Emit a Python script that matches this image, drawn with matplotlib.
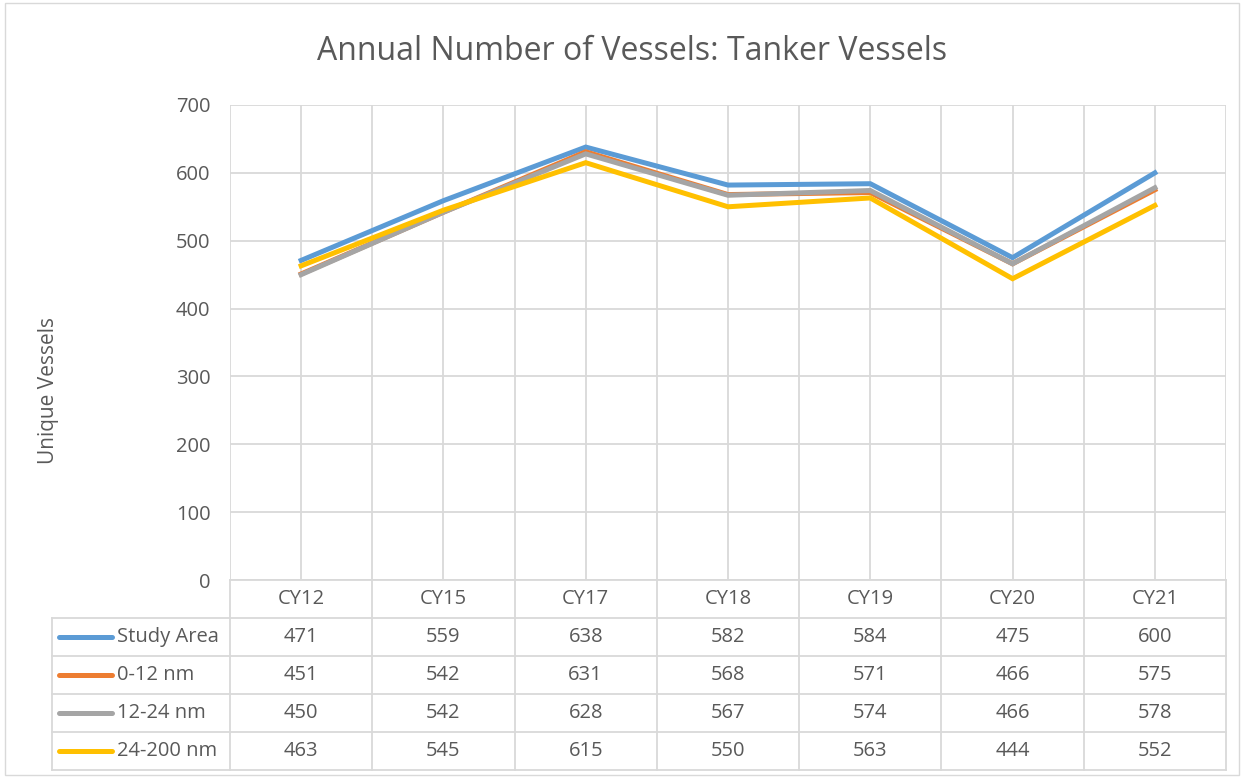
import matplotlib.pyplot as plt
from matplotlib.lines import Line2D
from matplotlib.patches import Rectangle

years = ["CY12", "CY15", "CY17", "CY18", "CY19", "CY20", "CY21"]
study_area = [471, 559, 638, 582, 584, 475, 600]
nm_0_12 = [451, 542, 631, 568, 571, 466, 575]
nm_12_24 = [450, 542, 628, 567, 574, 466, 578]
nm_24_200 = [463, 545, 615, 550, 563, 444, 552]

series = [("Study Area", study_area, "#5B9BD5"),
          ("0-12 nm", nm_0_12, "#ED7D31"),
          ("12-24 nm", nm_12_24, "#A5A5A5"),
          ("24-200 nm", nm_24_200, "#FFC000")]

plt.rcParams['font.family'] = ['Open Sans', 'DejaVu Sans']
txt = "#595959"
grid = "#D9D9D9"
fs = 14.5

W, H = 1244, 778
fig = plt.figure(figsize=(W / 100, H / 100), dpi=100)
fig.patches.append(Rectangle((0.004, 0.004), 0.992, 0.992, transform=fig.transFigure,
                             fill=False, edgecolor=grid, lw=1))

def box(x0, y0, x1, y1):
    return [x0 / W, 1 - y1 / H, (x1 - x0) / W, (y1 - y0) / H]

n = len(years)
x = list(range(n))

# chart area
ax = fig.add_axes(box(230, 105, 1226, 580))
for name, vals, col in series:
    ax.plot(x, vals, color=col, lw=3.6, solid_joinstyle='miter', zorder=3)
ax.set_xlim(-0.5, n - 0.5)
ax.set_ylim(0, 700)
ax.set_yticks(range(0, 701, 100))
ax.set_xticks([i - 0.5 for i in range(n + 1)] + x)
ax.set_xticklabels([])
ax.grid(True, color=grid, lw=1.3)
ax.tick_params(length=0, labelsize=fs, labelcolor=txt, pad=14)
for s in ax.spines.values():
    s.set_visible(False)
ax.set_ylabel("Unique Vessels", fontsize=15, color=txt)
ax.yaxis.set_label_coords(-0.172, 0.40)
fig.text(0.508, 1 - 52 / H, "Annual Number of Vessels: Tanker Vessels",
         ha='center', va='center', fontsize=23, color=txt)

# data table
cell_w = (1226 - 230) / n
left_units = (230 - 52) / cell_w
tax = fig.add_axes(box(52, 580, 1226, 770))
tax.set_xlim(-0.5 - left_units, n - 0.5)
tax.set_ylim(len(series) + 1, 0)
tax.axis('off')
lk = dict(color=grid, lw=1.3, clip_on=False)
# header row lines
tax.add_line(Line2D([-0.5, n - 0.5], [0, 0], **lk))
for i in range(n + 1):
    tax.add_line(Line2D([i - 0.5, i - 0.5], [0, len(series) + 1], **lk))
for r in range(1, len(series) + 2):
    tax.add_line(Line2D([-0.5 - left_units, n - 0.5], [r, r], **lk))
tax.add_line(Line2D([-0.5 - left_units] * 2, [1, len(series) + 1], **lk))
for i, yr in enumerate(years):
    tax.text(i, 0.5, yr, ha='center', va='center', fontsize=fs, color=txt)
for r, (name, vals, col) in enumerate(series, start=1):
    x0 = -0.5 - left_units
    tax.add_line(Line2D([x0 + 0.05, x0 + 0.42], [r + 0.5, r + 0.5], color=col, lw=3.6,
                        solid_capstyle='round', clip_on=False))
    tax.text(x0 + 0.455, r + 0.5, name, ha='left', va='center', fontsize=fs, color=txt)
    for i, v in enumerate(vals):
        tax.text(i, r + 0.5, str(v), ha='center', va='center', fontsize=fs, color=txt)

fig.savefig("out.png", dpi=100)
